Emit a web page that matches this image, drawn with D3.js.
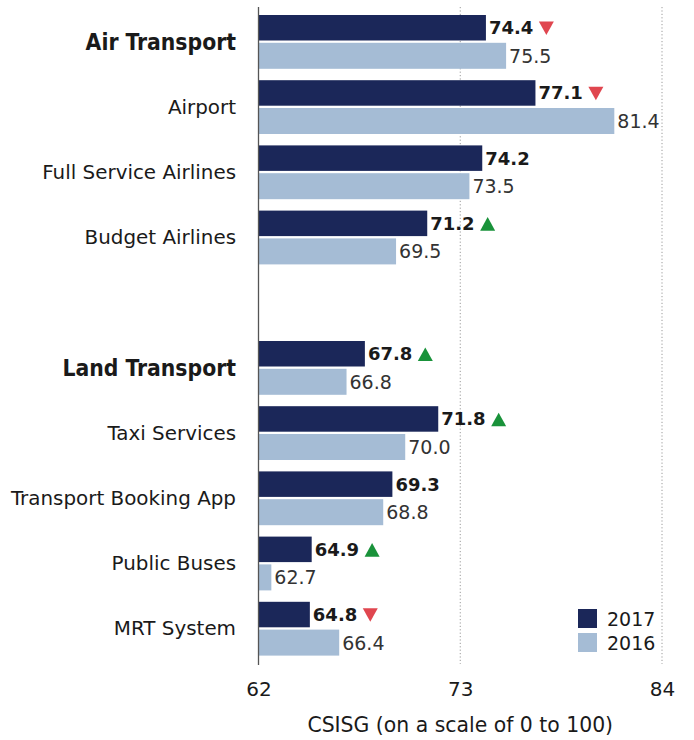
<!DOCTYPE html>
<html>
<head>
<meta charset="utf-8">
<script src="https://cdn.jsdelivr.net/npm/d3@7"></script>
<style>
  html, body { margin: 0; padding: 0; background: #fff; }
  svg { display: block; font-family: "DejaVu Sans", sans-serif; }
</style>
</head>
<body>
<svg id="chart" width="694" height="740"></svg>
<script>
// ---- data ----
const categories = ["Air Transport", "Airport", "Full Service Airlines", "Budget Airlines",
  "Land Transport", "Taxi Services", "Transport Booking App", "Public Buses", "MRT System"];
const headers = ["Air Transport", "Land Transport"];
const values2017 = [74.4, 77.1, 74.2, 71.2, 67.8, 71.8, 69.3, 64.9, 64.8];
const values2016 = [75.5, 81.4, 73.5, 69.5, 66.8, 70.0, 68.8, 62.7, 66.4];
const trend = ["down", "down", "none", "up", "up", "up", "none", "up", "down"];
const xTicks = [62, 73, 84];
const seriesNames = ["2017", "2016"];
const axisTitle = "CSISG (on a scale of 0 to 100)";

// ---- layout ----
const svg = d3.select("#chart");
const colors = { "2017": "#1b2759", "2016": "#a5bcd5" };
const slots = categories.slice(0, 4).concat(["__gap"], categories.slice(4));

const x = d3.scaleLinear().domain([62, 84]).range([258.5, 662]);
const y = d3.scaleBand().domain(slots).range([15, 667]).paddingInner(0).paddingOuter(0);

const h17 = 25.5, gap = 2.3, h16 = 26;

// gridlines
svg.append("g").selectAll("line").data(xTicks.slice(1)).join("line")
  .attr("x1", d => x(d)).attr("x2", d => x(d))
  .attr("y1", 7).attr("y2", 664)
  .attr("stroke", "#9a9a9a").attr("stroke-width", 1)
  .attr("stroke-dasharray", "1.2,2.2");

const rows = categories.map((c, i) => ({ c, v17: values2017[i], v16: values2016[i], t: trend[i] }));

// bars 2017
svg.append("g").selectAll("rect").data(rows).join("rect")
  .attr("x", x(62)).attr("y", d => y(d.c))
  .attr("width", d => x(d.v17) - x(62)).attr("height", h17)
  .attr("fill", colors["2017"]);
// bars 2016
svg.append("g").selectAll("rect").data(rows).join("rect")
  .attr("x", x(62)).attr("y", d => y(d.c) + h17 + gap)
  .attr("width", d => x(d.v16) - x(62)).attr("height", h16)
  .attr("fill", colors["2016"]);

// value labels 2017
const lab17 = svg.append("g").selectAll("text").data(rows).join("text")
  .attr("x", d => x(d.v17) + 3).attr("y", d => y(d.c) + h17 / 2 + 6.5)
  .attr("font-size", 18).attr("font-weight", "bold").attr("fill", "#1a1a1a")
  .text(d => d.v17.toFixed(1));
// value labels 2016
svg.append("g").selectAll("text").data(rows).join("text")
  .attr("x", d => x(d.v16) + 3).attr("y", d => y(d.c) + h17 + gap + h16 / 2 + 7)
  .attr("font-size", 19).attr("fill", "#333")
  .text(d => d.v16.toFixed(1));

// trend triangles
lab17.each(function(d) {
  if (d.t === "none") return;
  const bb = this.getBBox();
  const cx = bb.x + bb.width + 13;
  const cy = y(d.c) + h17 / 2 + 0.5;
  const w = 7.5, hh = 6.8;
  const pts = d.t === "up"
    ? [[cx - w, cy + hh], [cx + w, cy + hh], [cx, cy - hh]]
    : [[cx - w, cy - hh], [cx + w, cy - hh], [cx, cy + hh]];
  svg.append("path")
    .attr("d", "M" + pts.map(p => p.join(",")).join("L") + "Z")
    .attr("fill", d.t === "up" ? "#19923a" : "#e0464f");
});

// category labels
svg.append("g").selectAll("text").data(rows).join("text")
  .attr("x", 236).attr("y", d => y(d.c) + 27)
  .attr("text-anchor", "end").attr("dominant-baseline", "central")
  .attr("font-size", d => headers.includes(d.c) ? 22.7 : 19.9)
  .attr("font-weight", d => headers.includes(d.c) ? "bold" : "normal")
  .attr("font-stretch", d => headers.includes(d.c) ? "condensed" : "normal")
  .attr("fill", "#1a1a1a")
  .text(d => d.c);

// axis line at 62
svg.append("line")
  .attr("x1", x(62)).attr("x2", x(62)).attr("y1", 7).attr("y2", 665)
  .attr("stroke", "#555").attr("stroke-width", 1.3);

// x axis tick labels
const xAxis = d3.axisBottom(x).tickValues(xTicks).tickSize(0).tickPadding(0).tickFormat(d3.format("d"));
const ax = svg.append("g").attr("transform", "translate(0,681.5)").call(xAxis);
ax.select(".domain").remove();
ax.selectAll("text").attr("font-size", 20).attr("fill", "#1a1a1a")
  .attr("font-family", "DejaVu Sans, sans-serif");

// axis title
svg.append("text").attr("x", x(73)).attr("y", 732)
  .attr("text-anchor", "middle").attr("font-size", 20.4).attr("fill", "#1a1a1a")
  .text(axisTitle);

// legend
const leg = svg.append("g").attr("transform", "translate(578,609)");
seriesNames.forEach((s, i) => {
  leg.append("rect").attr("x", 0).attr("y", i * 24).attr("width", 19).attr("height", 19)
    .attr("fill", colors[s]);
  leg.append("text").attr("x", 29).attr("y", i * 24 + 16.5)
    .attr("font-size", 19).attr("fill", "#1a1a1a").text(s);
});
</script>
</body>
</html>
